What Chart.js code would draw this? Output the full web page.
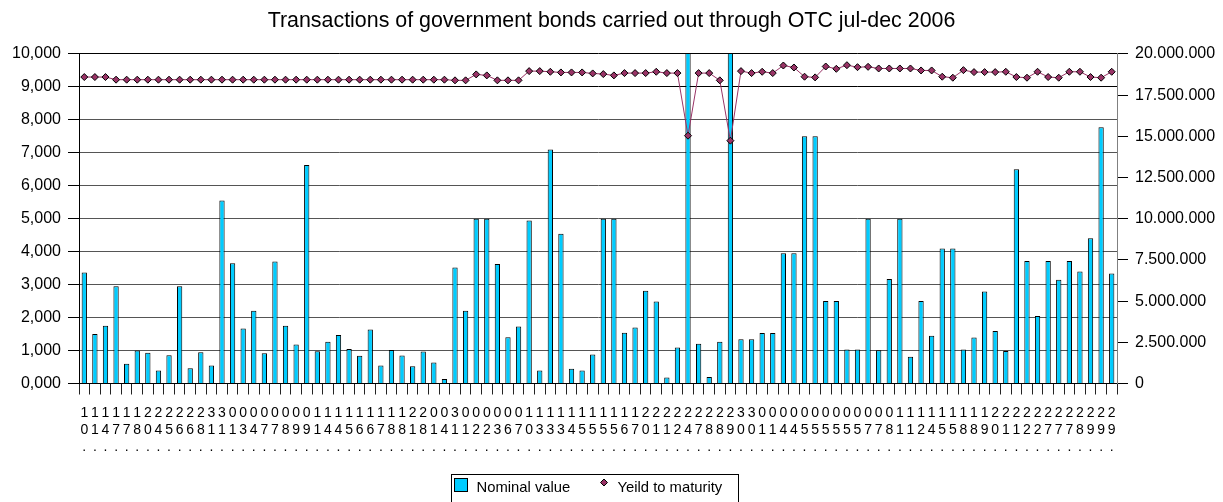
<!DOCTYPE html>
<html>
<head>
<meta charset="utf-8">
<script src="https://cdn.jsdelivr.net/npm/chart.js@4.4.1/dist/chart.umd.min.js"></script>
<style>
html,body{margin:0;padding:0;background:#fff;overflow:hidden}
#wrap{width:1223px;height:502px;position:relative;background:#fff}
</style>
</head>
<body>
<div id="wrap"><canvas id="c" width="1223" height="502"></canvas></div>
<script>
// ---- data ----
const days = [
  '10','11','14','17','17','18','20','24','25','26','26','28','31','31','01','03','04','07','07','08','09','09','11','14','14',
  '15','16','16','17','18','18','21','28','01','04','31','01','02','02','03','06','07','10','13','13','13','14','15','15',
  '15','15','16','17','20','21','21','22','24','27','28','28','29','30','30','01','01','04','04','05','05','05','05','05','05',
  '07','07','08','11','11','12','14','15','15','18','18','19','20','21','21','22','22','27','27','27','28','29','29','29'
];

const nominalValue = [
  6740000, 3000000, 3500000, 5900000, 1200000, 2000000, 1860000, 790000, 1720000, 5900000,
  930000, 1900000, 1090000, 11100000, 7300000, 3340000, 4410000, 1840000, 7410000, 3500000,
  2370000, 13260000, 1960000, 2530000, 2940000, 2100000, 1690000, 3280000, 1090000, 2040000,
  1700000, 1050000, 1940000, 1270000, 280000, 7040000, 4420000, 10000000, 10000000, 7250000,
  2800000, 3460000, 9900000, 790000, 14200000, 9090000, 890000, 790000, 1760000, 10000000,
  10000000, 3080000, 3400000, 5630000, 4980000, 360000, 2190000, 21000000, 2410000, 400000,
  2530000, 21000000, 2690000, 2690000, 3060000, 3060000, 7900000, 7900000, 15000000, 15000000,
  5000000, 5000000, 2060000, 2060000, 10000000, 2020000, 6340000, 10000000, 1620000, 5000000,
  2900000, 8200000, 8200000, 2060000, 2790000, 5590000, 3180000, 1980000, 13000000, 7430000,
  4090000, 7430000, 6300000, 7430000, 6800000, 8810000, 15550000, 6680000
];

const yieldToMaturity = [
  9.30, 9.30, 9.30, 9.22, 9.22, 9.22, 9.22, 9.22, 9.22, 9.22,
  9.22, 9.22, 9.22, 9.22, 9.22, 9.22, 9.22, 9.22, 9.22, 9.22,
  9.22, 9.22, 9.22, 9.22, 9.22, 9.22, 9.22, 9.22, 9.22, 9.22,
  9.22, 9.22, 9.22, 9.22, 9.22, 9.20, 9.20, 9.38, 9.35, 9.20,
  9.20, 9.20, 9.48, 9.48, 9.46, 9.44, 9.44, 9.44, 9.41, 9.39,
  9.35, 9.42, 9.42, 9.42, 9.46, 9.42, 9.42, 7.52, 9.42, 9.42,
  9.20, 7.37, 9.48, 9.42, 9.46, 9.42, 9.65, 9.59, 9.31, 9.29,
  9.62, 9.55, 9.66, 9.60, 9.61, 9.56, 9.56, 9.56, 9.56, 9.50,
  9.50, 9.31, 9.28, 9.51, 9.45, 9.45, 9.45, 9.46, 9.30, 9.28,
  9.46, 9.30, 9.28, 9.46, 9.46, 9.30, 9.28, 9.46
];

const chartTitle = 'Transactions of government bonds carried out through OTC jul-dec 2006';
const seriesNames = ['Nominal value', 'Yeild to maturity'];
const leftAxis = {min: 0, max: 10, step: 1};
const rightAxis = {min: 0, max: 20000000, step: 2500000};

// ---- styling ----
const FONT = '"Liberation Sans", Arial, Helvetica, sans-serif';
const BAR_COLOR = '#00CCFF';
const LINE_COLOR = '#993366';
Chart.defaults.font.family = FONT;
Chart.defaults.color = '#000';

function dotThousands(v) {
  return String(Math.round(v)).replace(/\B(?=(\d{3})+(?!\d))/g, '.');
}

const legendPlugin = {
  id: 'boxLegend',
  afterDraw(chart) {
    const c = chart.ctx;
    c.save();
    c.lineWidth = 1;
    c.strokeStyle = '#000';
    c.strokeRect(451.5, 474.5, 287, 40);
    c.fillStyle = BAR_COLOR;
    c.fillRect(454.5, 478.5, 13, 13);
    c.strokeRect(454.5, 478.5, 13, 13);
    c.fillStyle = '#000';
    c.font = '14.8px ' + FONT;
    c.textAlign = 'left';
    c.textBaseline = 'alphabetic';
    c.fillText(chart.data.datasets[1].label, 476.5, 491.5);
    c.beginPath();
    c.moveTo(600.5, 482.5);
    c.lineTo(604, 479);
    c.lineTo(607.5, 482.5);
    c.lineTo(604, 486);
    c.closePath();
    c.fillStyle = LINE_COLOR;
    c.fill();
    c.stroke();
    c.fillStyle = '#000';
    c.fillText(chart.data.datasets[0].label, 617.5, 491.5);
    c.restore();
  }
};

new Chart(document.getElementById('c'), {
  data: {
    labels: days.map(d => [d[0], d[1], '.']),
    datasets: [
      {
        type: 'line',
        label: seriesNames[1],
        data: yieldToMaturity,
        yAxisID: 'y',
        order: 0,
        borderColor: LINE_COLOR,
        borderWidth: 1,
        tension: 0,
        pointStyle: 'rectRot',
        pointRadius: 3.5,
        pointBackgroundColor: LINE_COLOR,
        pointBorderColor: '#000',
        pointBorderWidth: 1
      },
      {
        type: 'bar',
        label: seriesNames[0],
        data: nominalValue,
        yAxisID: 'y2',
        order: 1,
        backgroundColor: BAR_COLOR,
        borderColor: '#000',
        borderWidth: 1,
        barPercentage: 0.5,
        categoryPercentage: 1.0
      }
    ]
  },
  options: {
    responsive: false,
    animation: false,
    layout: {padding: 0},
    plugins: {
      legend: {display: false},
      tooltip: {enabled: false},
      title: {
        display: true,
        text: chartTitle,
        color: '#000',
        font: {size: 21.4, weight: 'normal', lineHeight: 1.2},
        padding: {top: 7.8, bottom: 20.5}
      }
    },
    scales: {
      x: {
        offset: true,
        grid: {offset: true, drawOnChartArea: false, tickLength: 11, tickColor: '#222'},
        border: {color: '#000'},
        ticks: {autoSkip: false, maxRotation: 0, minRotation: 0, padding: 10,
                font: {size: 14, lineHeight: 17 / 14}, color: '#000'},
        afterFit(s) { s.height = 118.5; }
      },
      y: {
        position: 'left',
        min: leftAxis.min,
        max: leftAxis.max,
        ticks: {stepSize: leftAxis.step, padding: 7, font: {size: 16}, color: '#000',
                callback: v => v.toFixed(3).replace('.', ',')},
        grid: {
          color: ctx => (ctx.tick && (ctx.tick.value >= 9 || ctx.tick.value === 0)) ? '#000' : '#555555',
          tickLength: 11,
          tickColor: '#000'
        },
        border: {color: '#000'},
        afterFit(s) { s.width = 79; }
      },
      y2: {
        position: 'right',
        min: rightAxis.min,
        max: rightAxis.max,
        ticks: {stepSize: rightAxis.step, padding: 7, font: {size: 16}, color: '#000',
                callback: v => dotThousands(v)},
        grid: {drawOnChartArea: false, tickLength: 11, tickColor: '#000'},
        border: {color: '#808080'},
        afterFit(s) { s.width = 106; }
      }
    }
  },
  plugins: [legendPlugin]
});
</script>
</body>
</html>
